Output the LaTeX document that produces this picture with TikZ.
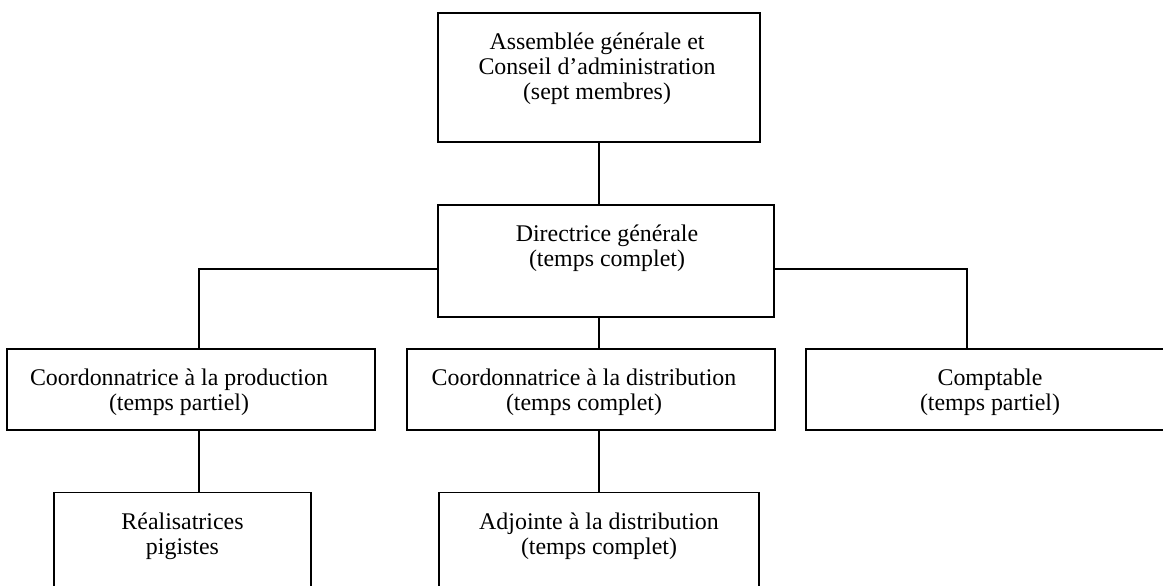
\documentclass[tikz,border=0pt]{standalone}
\usepackage{fontspec}
\setmainfont{Liberation Serif}

\begin{document}
\begin{tikzpicture}[x=0.02cm, y=-0.02cm, line width=0.85pt,
    unit/.style={draw, inner sep=0pt},
    caption/.style={align=center, anchor=north, inner sep=0pt,
        font=\fontsize{13.6}{14.1}\selectfont}]

    \path[use as bounding box, clip] (0,0) rectangle (1163,585);

    % boites
    \node[unit, minimum width=6.44cm, minimum height=2.58cm] (ca) at (599,77.5) {};
    \node[unit, minimum width=6.72cm, minimum height=2.24cm] (dg) at (606,261) {};
    \node[unit, minimum width=7.36cm, minimum height=1.62cm] (prod) at (191,389.5) {};
    \node[unit, minimum width=7.36cm, minimum height=1.62cm] (dist) at (591,389.5) {};
    \node[unit, minimum width=7.38cm, minimum height=1.62cm] (compt) at (990.5,389.5) {};
    \node[unit, minimum width=5.14cm, minimum height=2.54cm] (real) at (182.5,556) {};
    \node[unit, minimum width=6.40cm, minimum height=2.54cm] (adj) at (599,556) {};

    % textes
    \node[caption] (ca text) at (597,32.5) {Assemblée générale et\\Conseil d’administration\\(sept membres)};
    \node[caption] (dg text) at (607,224.5) {Directrice générale\\(temps complet)};
    \node[caption] (prod text) at (179,368.5) {Coordonnatrice à la production\\(temps partiel)};
    \node[caption] (dist text) at (584,368.5) {Coordonnatrice à la distribution\\(temps complet)};
    \node[caption] (compt text) at (990,368.5) {Comptable\\(temps partiel)};
    \node[caption] (real text) at (182.5,512.5) {Réalisatrices\\pigistes};
    \node[caption] (adj text) at (599,512.5) {Adjointe à la distribution\\(temps complet)};

    % liens
    \coordinate (gauche) at (199,269);
    \coordinate (droite) at (967,269);
    \draw (ca.south) -- (ca.south |- dg.north);
    \draw (dg.west |- gauche) -| (gauche |- prod.north);
    \draw (dg.east |- droite) -| (droite |- compt.north);
    \draw (ca.south |- dg.south) -- (ca.south |- dist.north);
    \draw (gauche |- prod.south) -- (gauche |- real.north);
    \draw (adj.north |- dist.south) -- (adj.north);

\end{tikzpicture}
\end{document}
